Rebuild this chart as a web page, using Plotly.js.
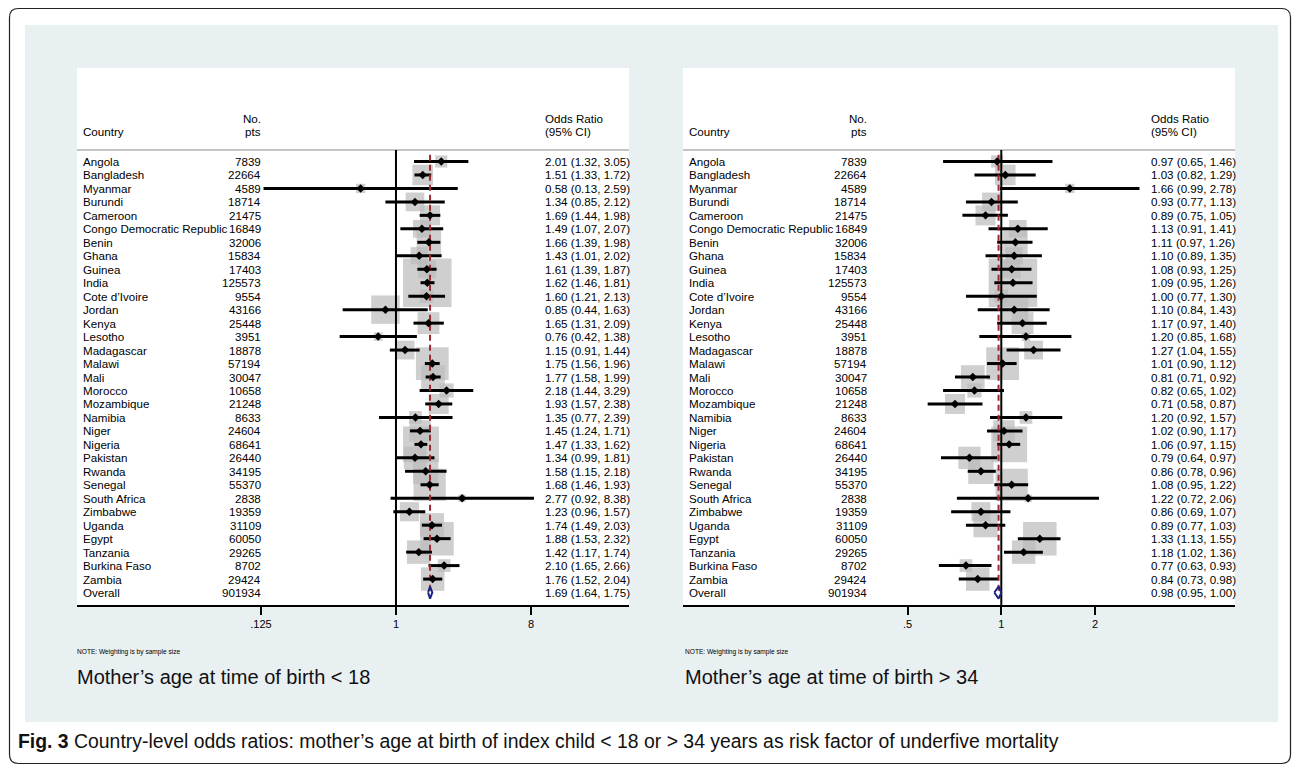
<!DOCTYPE html>
<html><head><meta charset="utf-8">
<script src="https://cdn.plot.ly/plotly-3.0.1.min.js"></script>
<style>html,body{margin:0;padding:0;background:#fff;} #chart{width:1292px;height:766px;}</style>
</head><body><div id="chart"></div>
<script>
// ---------------- data ----------------
const countries = ["Angola","Bangladesh","Myanmar","Burundi","Cameroon","Congo Democratic Republic","Benin","Ghana","Guinea","India","Cote d\u2019Ivoire","Jordan","Kenya","Lesotho","Madagascar","Malawi","Mali","Morocco","Mozambique","Namibia","Niger","Nigeria","Pakistan","Rwanda","Senegal","South Africa","Zimbabwe","Uganda","Egypt","Tanzania","Burkina Faso","Zambia"];
const nPts = [7839,22664,4589,18714,21475,16849,32006,15834,17403,125573,9554,43166,25448,3951,18878,57194,30047,10658,21248,8633,24604,68641,26440,34195,55370,2838,19359,31109,60050,29265,8702,29424];
const overallLabel = "Overall";
const overallN = 901934;

// Mother's age < 18
const orYoung = [2.01,1.51,0.58,1.34,1.69,1.49,1.66,1.43,1.61,1.62,1.60,0.85,1.65,0.76,1.15,1.75,1.77,2.18,1.93,1.35,1.45,1.47,1.34,1.58,1.68,2.77,1.23,1.74,1.88,1.42,2.10,1.76];
const loYoung = [1.32,1.33,0.13,0.85,1.44,1.07,1.39,1.01,1.39,1.46,1.21,0.44,1.31,0.42,0.91,1.56,1.58,1.44,1.57,0.77,1.24,1.33,0.99,1.15,1.46,0.92,0.96,1.49,1.53,1.17,1.65,1.52];
const hiYoung = [3.05,1.72,2.59,2.12,1.98,2.07,1.98,2.02,1.87,1.81,2.13,1.63,2.09,1.38,1.44,1.96,1.99,3.29,2.38,2.39,1.71,1.62,1.81,2.18,1.93,8.38,1.57,2.03,2.32,1.74,2.66,2.04];
const overallYoung = [1.69,1.64,1.75];

// Mother's age > 34
const orOld = [0.97,1.03,1.66,0.93,0.89,1.13,1.11,1.10,1.08,1.09,1.00,1.10,1.17,1.20,1.27,1.01,0.81,0.82,0.71,1.20,1.02,1.06,0.79,0.86,1.08,1.22,0.86,0.89,1.33,1.18,0.77,0.84];
const loOld = [0.65,0.82,0.99,0.77,0.75,0.91,0.97,0.89,0.93,0.95,0.77,0.84,0.97,0.85,1.04,0.90,0.71,0.65,0.58,0.92,0.90,0.97,0.64,0.78,0.95,0.72,0.69,0.77,1.13,1.02,0.63,0.73];
const hiOld = [1.46,1.29,2.78,1.13,1.05,1.41,1.26,1.35,1.25,1.26,1.30,1.43,1.40,1.68,1.55,1.12,0.92,1.02,0.87,1.57,1.17,1.15,0.97,0.96,1.22,2.06,1.07,1.03,1.55,1.36,0.93,0.98];
const overallOld = [0.98,0.95,1.00];

const ticksYoung = [0.125,1,8];
const tickTextYoung = [".125","1","8"];
const ticksOld = [0.5,1,2];
const tickTextOld = [".5","1","2"];
const nullOR = 1;

const subtitleYoung = "Mother\u2019s age at time of birth &lt; 18";
const subtitleOld = "Mother\u2019s age at time of birth &gt; 34";
const noteText = "NOTE: Weighting is by sample size";
const captionText = "<b>Fig. 3</b> Country-level odds ratios: mother\u2019s age at birth of index child &lt; 18 or &gt; 34 years as risk factor of underfive mortality";

// ---------------- styling ----------------
const FONT = "Liberation Sans, Arial, Helvetica, sans-serif";
const W = 1292, H = 766;
const BOX_MAX = 48.5;            // px side of the largest box
const GRAY = "#bababa";
const MAROON = "#9e2a2f";
const NAVY = "#1b2585";
const BG = "#e9f0f2";

const rows = countries.map((c,i)=>i+1);
const overallRow = countries.length + 1;
const maxN = Math.max(...nPts);
const fmt = v => v.toFixed(2);

const yRange = [33.925, -5.94];
const headRow1 = -2.2, headRow2 = -1.22, sepRow = 0.15;

function px2x(p){ return p / W; }
function px2y(p){ return 1 - p / H; }

const traces = [];
const annotations = [];
const shapes = [];

// background
shapes.push({type:"rect", xref:"paper", yref:"paper", x0:px2x(25), x1:px2x(1278), y0:px2y(722), y1:px2y(25), fillcolor:BG, line:{width:0}, layer:"below"});

function panel(xa, ya, est, lo, hi, overall){
  const xs = xa === "x" ? "" : xa.slice(1);
  const xdom = "x" + xs + " domain", ydom = "y" + xs + " domain";
  const yref = "y" + xs;
  // white panel
  shapes.push({type:"rect", xref:xdom, yref:ydom, x0:0, x1:1, y0:0, y1:1, fillcolor:"#ffffff", line:{width:0}, layer:"below"});
  // header separator
  shapes.push({type:"line", xref:xdom, yref:yref, x0:0, x1:1, y0:sepRow, y1:sepRow, line:{color:"#c4c4c4", width:2}, layer:"below"});

  // weight boxes
  traces.push({type:"scatter", mode:"markers", xaxis:xa, yaxis:ya, x:est, y:rows, hoverinfo:"skip",
    marker:{symbol:"square", color:GRAY, size:nPts.map(n=>BOX_MAX*Math.sqrt(n/maxN)), line:{width:0}}, cliponaxis:false});
  // null line
  traces.push({type:"scatter", mode:"lines", xaxis:xa, yaxis:ya, x:[nullOR,nullOR], y:[sepRow, yRange[0]], line:{color:"#000", width:2}, hoverinfo:"skip"});
  // CI lines
  const cx = [], cy = [];
  est.forEach((e,i)=>{ cx.push(lo[i],hi[i],null); cy.push(rows[i],rows[i],null); });
  traces.push({type:"scatter", mode:"lines", xaxis:xa, yaxis:ya, x:cx, y:cy, line:{color:"#000", width:3}, hoverinfo:"skip"});
  // overall dashed line
  traces.push({type:"scatter", mode:"lines", xaxis:xa, yaxis:ya, x:[overall[0],overall[0]], y:[0.5, overallRow], line:{color:MAROON, width:2, dash:"6px,4px"}, hoverinfo:"skip"});
  // point estimates
  traces.push({type:"scatter", mode:"markers", xaxis:xa, yaxis:ya, x:est, y:rows, marker:{symbol:"diamond", color:"#000", size:6.5, line:{width:0}}, hoverinfo:"skip"});
  // overall diamond
  const dh = 0.45;
  traces.push({type:"scatter", mode:"lines", xaxis:xa, yaxis:ya,
    x:[overall[1], overall[0], overall[2], overall[0], overall[1]],
    y:[overallRow, overallRow-dh, overallRow, overallRow+dh, overallRow],
    line:{color:NAVY, width:2}, hoverinfo:"skip"});

  // text columns
  const tf = {family:FONT, size:11.6, color:"#000"};
  const cX = 5.5/552, nX = 183.5/552, oX = 467.5/552;
  const base = {xref:xdom, yref:yref, showarrow:false, font:tf, borderpad:0, borderwidth:0, yanchor:"middle"};
  annotations.push(Object.assign({}, base, {x:cX, y:headRow2, text:"Country", xanchor:"left"}));
  annotations.push(Object.assign({}, base, {x:nX, y:headRow1, text:"No.", xanchor:"right"}));
  annotations.push(Object.assign({}, base, {x:nX, y:headRow2, text:"pts", xanchor:"right"}));
  annotations.push(Object.assign({}, base, {x:oX, y:headRow1, text:"Odds Ratio", xanchor:"left"}));
  annotations.push(Object.assign({}, base, {x:oX, y:headRow2, text:"(95% CI)", xanchor:"left"}));
  countries.forEach((c,i)=>{
    annotations.push(Object.assign({}, base, {x:cX, y:rows[i], text:c, xanchor:"left"}));
    annotations.push(Object.assign({}, base, {x:nX, y:rows[i], text:String(nPts[i]), xanchor:"right"}));
    annotations.push(Object.assign({}, base, {x:oX, y:rows[i], text:`${fmt(est[i])} (${fmt(lo[i])}, ${fmt(hi[i])})`, xanchor:"left"}));
  });
  annotations.push(Object.assign({}, base, {x:cX, y:overallRow, text:overallLabel, xanchor:"left"}));
  annotations.push(Object.assign({}, base, {x:nX, y:overallRow, text:String(overallN), xanchor:"right"}));
  annotations.push(Object.assign({}, base, {x:oX, y:overallRow, text:`${fmt(overall[0])} (${fmt(overall[1])}, ${fmt(overall[2])})`, xanchor:"left"}));
}

panel("x","y", orYoung, loYoung, hiYoung, overallYoung);
panel("x2","y2", orOld, loOld, hiOld, overallOld);

// notes and subtitles
[[77, noteText],[685, noteText]].forEach(([p,t])=>{
  annotations.push({xref:"paper", yref:"paper", x:px2x(p), y:px2y(652), text:t, showarrow:false, xanchor:"left", yanchor:"middle", font:{family:FONT, size:6.6, color:"#000"}, borderpad:0, borderwidth:0});
});
[[77, subtitleYoung],[685, subtitleOld]].forEach(([p,t])=>{
  annotations.push({xref:"paper", yref:"paper", x:px2x(p), y:px2y(677), text:t, showarrow:false, xanchor:"left", yanchor:"middle", font:{family:FONT, size:20, color:"#111"}, borderpad:0, borderwidth:0});
});
annotations.push({xref:"paper", yref:"paper", x:px2x(18), y:px2y(741), text:captionText, showarrow:false, xanchor:"left", yanchor:"middle", font:{family:FONT, size:19.4, color:"#111"}, borderpad:0, borderwidth:0});

// outer rounded border
(function(){
  const l = px2x(9.5), r = px2x(1290.5), t = px2y(8.5), b = px2y(763.5);
  const rx = 9/W, ry = 9/H;
  const path = `M ${l+rx},${t} L ${r-rx},${t} Q ${r},${t} ${r},${t-ry} L ${r},${b+ry} Q ${r},${b} ${r-rx},${b} L ${l+rx},${b} Q ${l},${b} ${l},${b+ry} L ${l},${t-ry} Q ${l},${t} ${l+rx},${t} Z`;
  shapes.push({type:"path", xref:"paper", yref:"paper", path:path, line:{color:"#222", width:1.2}, layer:"below"});
})();

const tickfont = {family:FONT, size:11, color:"#000"};
function xaxis(dom, range, tv, tt, anchor){
  return {domain:dom, type:"log", range:range, tickmode:"array", tickvals:tv, ticktext:tt, ticks:"outside", ticklen:8, tickwidth:2, tickcolor:"#000",
    showline:true, linecolor:"#000", linewidth:2, showgrid:false, zeroline:false, anchor:anchor, tickfont:tickfont, fixedrange:true};
}
const ydom = [px2y(605), px2y(68)];
const layout = {
  width:W, height:H, margin:{l:0,r:0,t:0,b:0}, paper_bgcolor:"#ffffff", plot_bgcolor:"rgba(0,0,0,0)", showlegend:false,
  xaxis: xaxis([px2x(77), px2x(629)], [-2.134, 1.559], ticksYoung, tickTextYoung, "y"),
  xaxis2: xaxis([px2x(683), px2x(1235)], [-1.0228, 0.751], ticksOld, tickTextOld, "y2"),
  yaxis: {domain:ydom, range:yRange, visible:false, anchor:"x", fixedrange:true},
  yaxis2: {domain:ydom, range:yRange, visible:false, anchor:"x2", fixedrange:true},
  shapes:shapes, annotations:annotations, font:{family:FONT}
};
Plotly.newPlot("chart", traces, layout, {staticPlot:true, displayModeBar:false});
</script></body></html>
